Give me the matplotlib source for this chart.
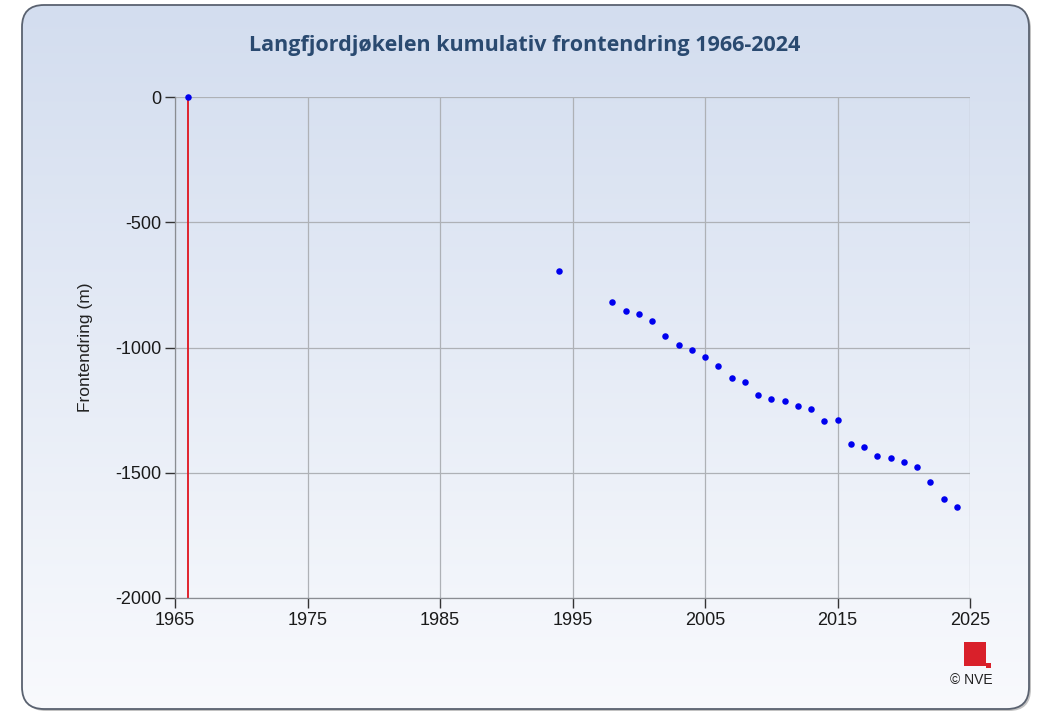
import numpy as np
import matplotlib
matplotlib.use("Agg")
import matplotlib.pyplot as plt
from matplotlib.patches import FancyBboxPatch, Rectangle

plt.rcParams["axes.unicode_minus"] = False

years = [1966, 1994, 1998, 1999, 2000, 2001, 2002, 2003, 2004, 2005, 2006, 2007,
         2008, 2009, 2010, 2011, 2012, 2013, 2014, 2015, 2016, 2017, 2018, 2019,
         2020, 2021, 2022, 2023, 2024]
cum_change = [0, -695, -817, -855, -868, -893, -955, -991, -1009, -1038, -1073, -1123,
              -1136, -1188, -1204, -1214, -1234, -1244, -1295, -1289, -1384, -1396,
              -1432, -1442, -1457, -1477, -1538, -1604, -1635]
x_ticks = [1965, 1975, 1985, 1995, 2005, 2015, 2025]
y_ticks = [0, -500, -1000, -1500, -2000]
gap_year = 1966
title = "Langfjordjøkelen kumulativ frontendring 1966-2024"
ylabel = "Frontendring (m)"

W, H = 1040, 714
fig = plt.figure(figsize=(W / 100, H / 100), dpi=100)
fig.patch.set_facecolor("white")

# background panel with gradient
bg = fig.add_axes([0, 0, 1, 1])
bg.set_xlim(0, W)
bg.set_ylim(0, H)
bg.axis("off")
px0, py0, px1, py1 = 22, 5, 1029, 709
shadow = FancyBboxPatch((px0 + 2, H - py1 - 2), px1 - px0, py1 - py0,
                        boxstyle="round,pad=0,rounding_size=22",
                        fc="#9a9a9a", ec="none", alpha=0.6, zorder=0)
bg.add_patch(shadow)
panel = FancyBboxPatch((px0, H - py1), px1 - px0, py1 - py0,
                       boxstyle="round,pad=0,rounding_size=22",
                       fc="none", ec="#5a6270", lw=1.3, zorder=3)
bg.add_patch(panel)
grad = np.linspace(0, 1, 256).reshape(-1, 1)
top = np.array([0.827, 0.867, 0.937])
bot = np.array([0.975, 0.98, 0.992])
img = top[None, None, :] * (1 - grad[:, :, None]) + bot[None, None, :] * grad[:, :, None]
im = bg.imshow(img, extent=[px0, px1, H - py1, H - py0], aspect="auto", zorder=1,
               origin="upper")
clip = FancyBboxPatch((px0, H - py1), px1 - px0, py1 - py0,
                      boxstyle="round,pad=0,rounding_size=22",
                      fc="none", ec="none", transform=bg.transData)
im.set_clip_path(clip)

# logo
bg.add_patch(Rectangle((964, H - 666), 22, 24, fc="#d9202a", ec="none", zorder=4))
bg.add_patch(Rectangle((986, H - 668), 5, 5, fc="#d9202a", ec="none", zorder=4))
bg.text(971, H - 680, "© NVE", ha="center", va="center", fontsize=10,
        family="Liberation Sans", color="#222222", zorder=4)

ax = fig.add_axes([175 / W, 1 - 598 / H, (970 - 175) / W, (598 - 97) / H])
ax.set_facecolor("none")
ax.set_xlim(1965, 2025)
ax.set_ylim(-2000, 0)
ax.set_xticks(x_ticks)
ax.set_yticks(y_ticks)
ax.grid(True, color="#aeb1b6", lw=0.9)
ax.set_axisbelow(True)
for s in ["top", "right"]:
    ax.spines[s].set_visible(False)
for s in ["left", "bottom"]:
    ax.spines[s].set_color("#8a8d92")
    ax.spines[s].set_linewidth(0.9)
ax.tick_params(direction="out", length=7, color="#333333", width=1,
               labelsize=13, labelcolor="#1a1a1a", pad=3)
for lab in ax.get_xticklabels() + ax.get_yticklabels():
    lab.set_family("Liberation Sans")

ax.axvline(gap_year, color="#e0141e", lw=1.3, zorder=2)
ax.scatter(years, cum_change, s=22, color="#0000ee", zorder=3, clip_on=False,
           linewidths=0)

ax.set_ylabel(ylabel, fontsize=12.5, family="Liberation Sans", color="#222222",
              labelpad=16)
fig.text(525 / W, 1 - 45 / H, title, ha="center", va="center", fontsize=15.5,
         fontweight="bold", family="Open Sans", color="#2a4a70")

fig.savefig("out.png", dpi=100)
